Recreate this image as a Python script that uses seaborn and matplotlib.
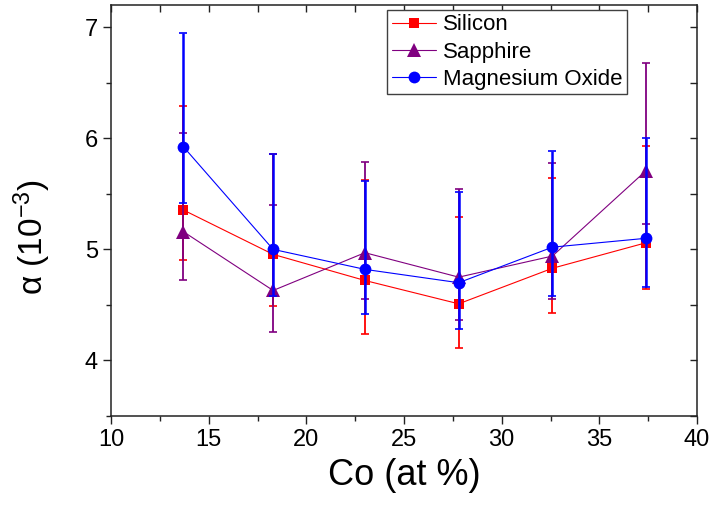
import matplotlib
matplotlib.use("Agg")
import matplotlib.pyplot as plt
from matplotlib.ticker import MultipleLocator
import numpy as np
import seaborn as sns

# Co content (at %)
co = [13.7, 18.3, 23.0, 27.8, 32.6, 37.4]

# alpha (10^-3) with upper / lower ends of the error bars
si_alpha = [5.355, 4.955, 4.72, 4.51, 4.83, 5.06]
si_high = [6.29, 5.86, 5.625, 5.29, 5.64, 5.93]
si_low = [4.90, 4.49, 4.24, 4.11, 4.43, 4.64]

sa_alpha = [5.16, 4.63, 4.97, 4.75, 4.94, 5.71]
sa_high = [6.045, 5.40, 5.79, 5.54, 5.78, 6.68]
sa_low = [4.725, 4.26, 4.55, 4.36, 4.55, 5.23]

mg_alpha = [5.925, 5.0, 4.82, 4.70, 5.02, 5.10]
mg_high = [6.95, 5.855, 5.62, 5.52, 5.89, 6.0]
mg_low = [5.42, 4.58, 4.42, 4.28, 4.58, 4.66]

labels = ["Silicon", "Sapphire", "Magnesium Oxide"]

sns.set_style("ticks")
plt.rcParams['font.family'] = ['Liberation Sans', 'DejaVu Sans']
plt.rcParams['mathtext.fontset'] = 'custom'
plt.rcParams['mathtext.rm'] = 'Liberation Sans'
plt.rcParams['mathtext.it'] = 'Liberation Sans:italic'
plt.rcParams['text.color'] = 'black'
plt.rcParams['axes.labelcolor'] = 'black'
plt.rcParams['xtick.color'] = 'black'
plt.rcParams['ytick.color'] = 'black'

fig = plt.figure(figsize=(7.1, 5.08), dpi=100)
ax = fig.add_axes([111 / 710, 92 / 508, 586 / 710, 411 / 508])

series = [
    (si_alpha, si_high, si_low, "#ff0000", "s", 7, 1.3),
    (sa_alpha, sa_high, sa_low, "#800080", "^", 10, 1.3),
    (mg_alpha, mg_high, mg_low, "#0000ff", "o", 8.5, 1.8),
]

for (vals, hi, lo, col, mk, ms, elw), lab in zip(series, labels):
    vals = np.array(vals)
    yerr = [vals - np.array(lo), np.array(hi) - vals]
    ax.errorbar(co, vals, yerr=yerr, fmt="none", ecolor=col,
                elinewidth=elw, capsize=2.6, capthick=1.2)
    sns.lineplot(x=co, y=vals, ax=ax, color=col, marker=mk, markersize=ms,
                 markeredgewidth=0, linewidth=0.8, label=lab)

ax.set_xlim(10, 40)
ax.set_ylim(3.5, 7.2)
ax.xaxis.set_major_locator(MultipleLocator(5))
ax.xaxis.set_minor_locator(MultipleLocator(2.5))
ax.yaxis.set_major_locator(MultipleLocator(1))
ax.yaxis.set_minor_locator(MultipleLocator(0.5))
ax.tick_params(which='major', direction='out', length=6, width=1,
               labelsize=17, top=False, right=False, color="#222222")
ax.tick_params(which='minor', direction='out', length=3.5, width=1,
               top=False, right=False, color="#222222")

for sp in ax.spines.values():
    sp.set_color("#222222")
    sp.set_linewidth(1.1)

secx = ax.secondary_xaxis('top')
secx.xaxis.set_major_locator(MultipleLocator(5))
secx.xaxis.set_minor_locator(MultipleLocator(2.5))
secx.tick_params(which='both', direction='in', length=5, width=1,
                 labeltop=False, color="#222222")
secx.spines['top'].set_visible(False)

secy = ax.secondary_yaxis('right')
secy.yaxis.set_major_locator(MultipleLocator(1))
secy.yaxis.set_minor_locator(MultipleLocator(0.5))
secy.tick_params(which='both', direction='in', length=5, width=1,
                 labelright=False, color="#222222")
secy.spines['right'].set_visible(False)

ax.set_xlabel("Co (at %)", fontsize=26, labelpad=5)
ax.set_ylabel(r"α (10$^{\mathregular{-3}}$)", fontsize=24)
ax.yaxis.set_label_coords(-0.099, 0.436)

leg = ax.legend(loc="upper right", bbox_to_anchor=(0.8805, 0.988),
                borderaxespad=0, fontsize=16, fancybox=False,
                framealpha=1, edgecolor="#404040", handlelength=2.0,
                handletextpad=0.3, labelspacing=0.28, borderpad=0.2)
leg.get_frame().set_linewidth(1)

fig.savefig("out.png", dpi=100)
